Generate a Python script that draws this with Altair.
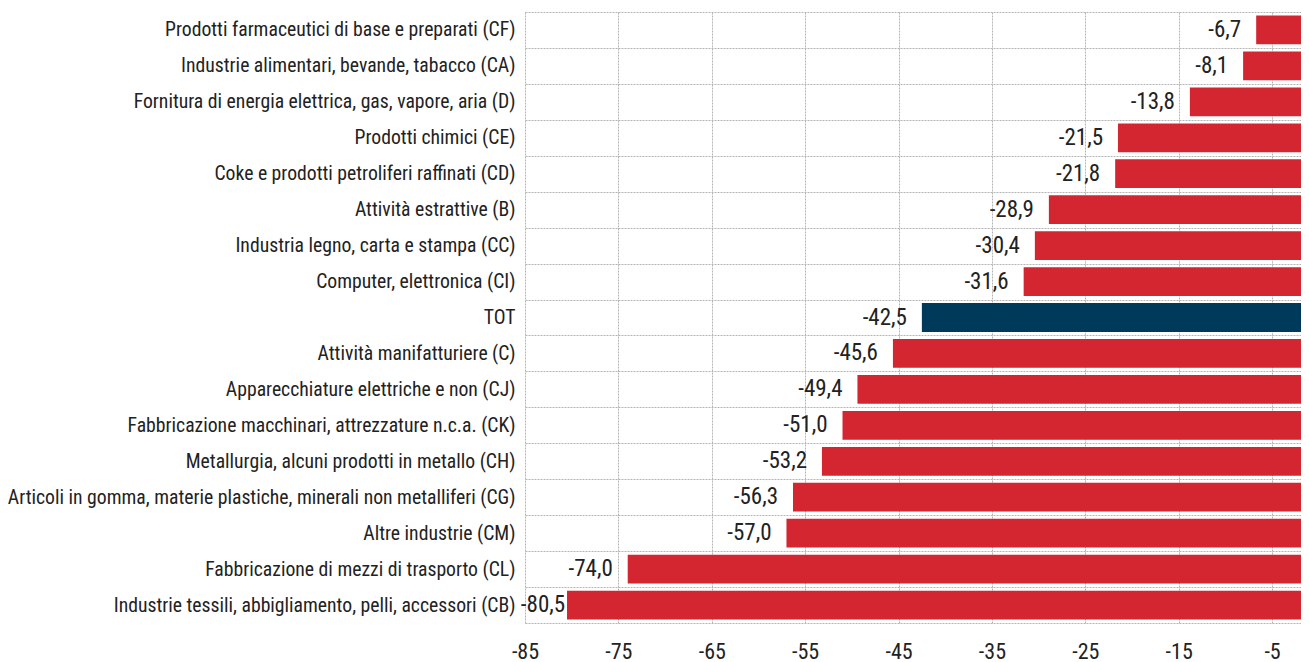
import altair as alt
import pandas as pd

categories = [
    "Prodotti farmaceutici di base e preparati (CF)",
    "Industrie alimentari, bevande, tabacco (CA)",
    "Fornitura di energia elettrica, gas, vapore, aria (D)",
    "Prodotti chimici (CE)",
    "Coke e prodotti petroliferi raffinati (CD)",
    "Attività estrattive (B)",
    "Industria legno, carta e stampa (CC)",
    "Computer, elettronica (CI)",
    "TOT",
    "Attività manifatturiere (C)",
    "Apparecchiature elettriche e non (CJ)",
    "Fabbricazione macchinari, attrezzature n.c.a. (CK)",
    "Metallurgia, alcuni prodotti in metallo (CH)",
    "Articoli in gomma, materie plastiche, minerali non metalliferi (CG)",
    "Altre industrie (CM)",
    "Fabbricazione di mezzi di trasporto (CL)",
    "Industrie tessili, abbigliamento, pelli, accessori (CB)",
]
values = [-6.7, -8.1, -13.8, -21.5, -21.8, -28.9, -30.4, -31.6, -42.5,
          -45.6, -49.4, -51.0, -53.2, -56.3, -57.0, -74.0, -80.5]
groups = ["settore"] * 8 + ["totale"] + ["settore"] * 8
labels = [f"{v:.1f}".replace(".", ",") for v in values]
x_ticks = [-85, -75, -65, -55, -45, -35, -25, -15, -5]

df = pd.DataFrame({"cat": categories, "v": values, "g": groups,
                   "lab": labels, "zero": [0] * len(values)})

FONT = "Roboto Condensed, Liberation Sans Narrow, Arial Narrow, sans-serif"
GRID = "#b5b5b5"

y = alt.Y(
    "cat:N", sort=categories, title=None,
    scale=alt.Scale(paddingInner=0, paddingOuter=0),
    axis=alt.Axis(domain=False, ticks=False, labelFont=FONT, labelFontSize=19.7,
                  labelColor="#222222", labelPadding=10, labelLimit=700,
                  grid=True, tickBand="extent", gridColor=GRID,
                  gridDash=[2, 1], gridWidth=1),
)
x = alt.X(
    "v:Q", title=None,
    scale=alt.Scale(domain=[-85, -1.9], nice=False, zero=False),
    axis=alt.Axis(values=x_ticks, domain=False, ticks=False, labelFont=FONT,
                  labelFontSize=22, labelColor="#222222", labelPadding=18,
                  labelFlush=False, labelOverlap=False,
                  labelExpr="'' + datum.value", grid=True, gridColor=GRID,
                  gridDash=[2, 1], gridWidth=1),
)

bars = alt.Chart(df).mark_bar(height=alt.RelativeBandSize(0.8), clip=True).encode(
    y=y, x=x, x2="zero:Q",
    color=alt.Color("g:N", scale=alt.Scale(domain=["settore", "totale"],
                                           range=["#d42630", "#003a5b"]),
                    legend=None),
)

text = alt.Chart(df).transform_calculate(
    pos="max(datum.v - 1.6, -80.7)"
).mark_text(align="right", baseline="middle", font=FONT, fontSize=23,
            color="#222222").encode(
    y=alt.Y("cat:N", sort=categories, title=None),
    x=alt.X("pos:Q", title=None),
    text="lab:N",
)

chart = alt.layer(bars, text).properties(
    width=776, height=611,
    autosize=alt.AutoSizeParams(type="none"),
    padding={"left": 517, "top": 4, "right": 0, "bottom": 44},
).configure_view(stroke=None)

chart.save("out.html", embed_options={"renderer": "svg", "actions": False})
